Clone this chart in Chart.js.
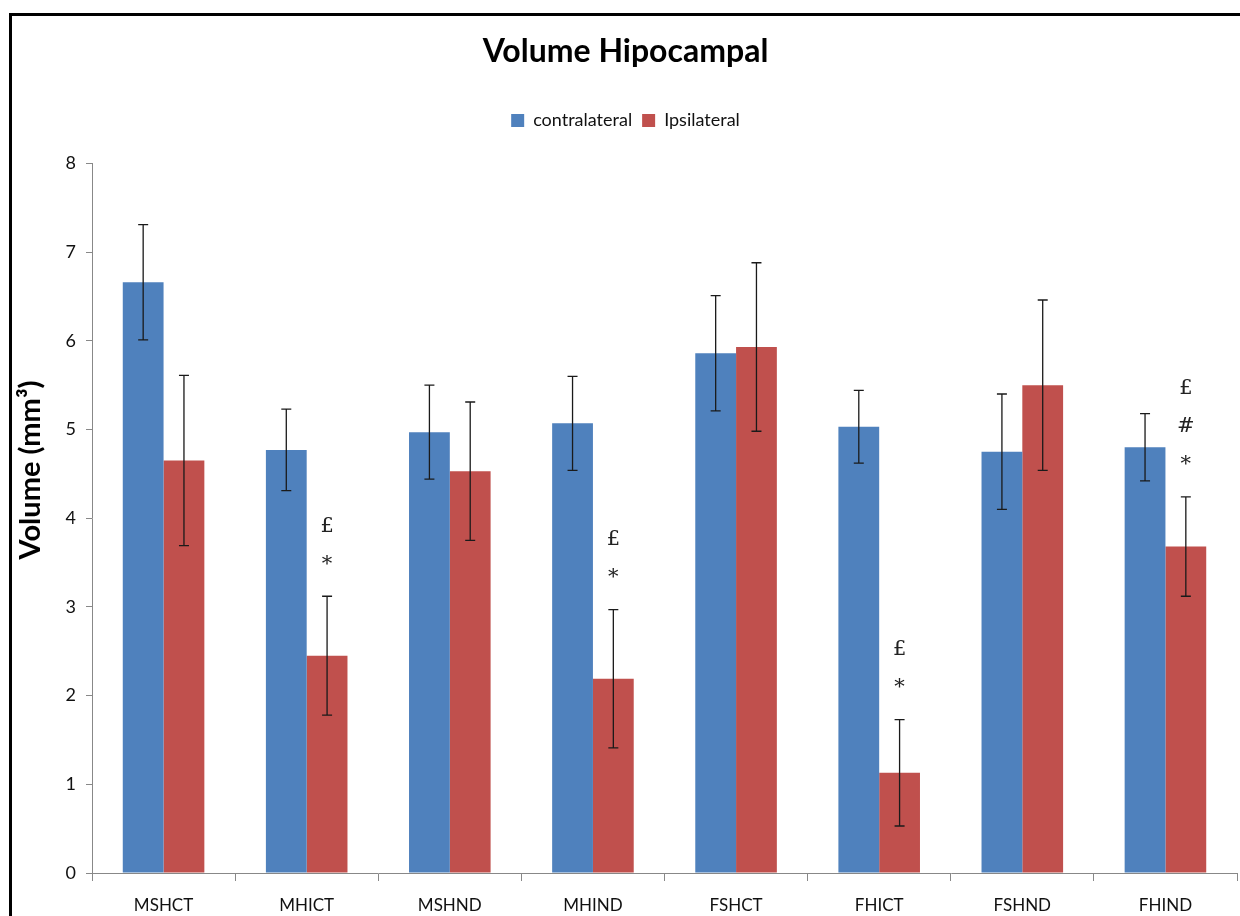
<!DOCTYPE html>
<html>
<head>
<meta charset="utf-8">
<script src="https://cdn.jsdelivr.net/npm/chart.js@4"></script>
<style>
    body { margin: 0; background: #fff; }
    #wrap { position: relative; width: 1240px; height: 916px; overflow: hidden; }
    #frame {
        position: absolute; left: 9px; top: 13px; width: 1300px; height: 1000px;
        border-top: 3px solid #000; border-left: 3px solid #000;
    }
    #mychart { position: absolute; left: 0; top: 0; }
</style>
</head>
<body>
<div id="wrap">
    <div id="frame"></div>
    <canvas id="mychart" width="1240" height="916"></canvas>
</div>
<script>
const categories = ['MSHCT', 'MHICT', 'MSHND', 'MHIND', 'FSHCT', 'FHICT', 'FSHND', 'FHIND']
const contralateral = [6.66, 4.77, 4.97, 5.07, 5.86, 5.03, 4.75, 4.80]
const contraErr = [0.65, 0.46, 0.53, 0.53, 0.65, 0.41, 0.65, 0.38]
const ipsilateral = [4.65, 2.45, 4.53, 2.19, 5.93, 1.13, 5.50, 3.68]
const ipsiErr = [0.96, 0.67, 0.78, 0.78, 0.95, 0.60, 0.96, 0.56]
// significance marks over the ipsilateral bars (top to bottom)
const ipsiMarks = [[], ['£', '*'], [], ['£', '*'], [], ['£', '*'], [], ['£', '#', '*']]
const yTicks = [0, 1, 2, 3, 4, 5, 6, 7, 8]
const yTitle = 'Volume (mm³)'

const mainFont = 'Lato, "Open Sans", sans-serif'

// error bars drawn on top of bars
const errorBars = {
    id: 'errorBars',
    afterDatasetsDraw(chart) {
        const ctx = chart.ctx
        const y = chart.scales.y
        ctx.save()
        ctx.strokeStyle = '#1a1a1a'
        ctx.lineWidth = 1.3
        chart.data.datasets.forEach((ds, i) => {
            const meta = chart.getDatasetMeta(i)
            meta.data.forEach((bar, j) => {
                const v = ds.data[j]
                const e = ds.errors[j]
                const top = y.getPixelForValue(v + e)
                const bot = y.getPixelForValue(v - e)
                ctx.beginPath()
                ctx.moveTo(bar.x, top); ctx.lineTo(bar.x, bot)
                ctx.moveTo(bar.x - 5, top); ctx.lineTo(bar.x + 5, top)
                ctx.moveTo(bar.x - 5, bot); ctx.lineTo(bar.x + 5, bot)
                ctx.stroke()
            })
        })
        ctx.restore()
    }
}

const sigMarks = {
    id: 'sigMarks',
    afterDatasetsDraw(chart) {
        const ctx = chart.ctx
        const y = chart.scales.y
        const meta = chart.getDatasetMeta(1)
        ctx.save()
        ctx.fillStyle = '#222'
        ctx.font = '21px "DejaVu Serif", "Liberation Serif", serif'
        ctx.textAlign = 'center'
        ctx.textBaseline = 'middle'
        ipsiMarks.forEach((marks, j) => {
            const bar = meta.data[j]
            const top = y.getPixelForValue(ipsilateral[j] + ipsiErr[j])
            const n = marks.length
            marks.forEach((m, k) => {
                ctx.fillText(m, bar.x, top - 32 - (n - 1 - k) * 38)
            })
        })
        ctx.restore()
    }
}

// y axis title, sits a bit above the axis middle like the original
const yAxisTitle = {
    id: 'yAxisTitle',
    afterDraw(chart) {
        const ctx = chart.ctx
        const area = chart.chartArea
        ctx.save()
        ctx.translate(31, area.top + (area.bottom - area.top) * 0.432)
        ctx.rotate(-Math.PI / 2)
        ctx.fillStyle = '#000'
        ctx.font = 'bold 29px ' + mainFont
        ctx.textAlign = 'center'
        ctx.textBaseline = 'middle'
        ctx.fillText(yTitle, 0, 0)
        ctx.restore()
    }
}

new Chart(document.getElementById('mychart'), {
    type: 'bar',
    data: {
        labels: categories,
        datasets: [
            { label: 'contralateral', data: contralateral, errors: contraErr, backgroundColor: '#4F81BD' },
            { label: 'Ipsilateral', data: ipsilateral, errors: ipsiErr, backgroundColor: '#C0504D' }
        ]
    },
    options: {
        responsive: false,
        animation: false,
        layout: { padding: { left: 14, right: 3, top: 0, bottom: 0 } },
        datasets: { bar: { categoryPercentage: 0.57, barPercentage: 1.0 } },
        plugins: {
            title: {
                display: true,
                text: 'Volume Hipocampal',
                color: '#000',
                font: { family: mainFont, size: 32, weight: 'bold' },
                padding: { top: 32, bottom: 31 }
            },
            legend: {
                display: true,
                labels: {
                    color: '#111',
                    font: { family: mainFont, size: 18 },
                    boxWidth: 13, boxHeight: 13, padding: 10
                }
            },
            tooltip: { enabled: false }
        },
        scales: {
            x: {
                grid: { display: true, drawOnChartArea: false, tickLength: 8, color: '#888', offset: true },
                border: { color: '#888' },
                ticks: { color: '#111', font: { family: mainFont, size: 17 }, padding: 14 },
                afterFit(scale) { scale.height = 43 }
            },
            y: {
                min: 0, max: 8,
                afterBuildTicks(scale) { scale.ticks = yTicks.map(v => ({ value: v })) },
                grid: { display: true, drawOnChartArea: false, tickLength: 6, color: '#888' },
                border: { color: '#888' },
                ticks: { color: '#111', font: { family: mainFont, size: 18 }, padding: 10 },
                afterFit(scale) { scale.width = 78 }
            }
        }
    },
    plugins: [errorBars, sigMarks, yAxisTitle, {
        id: 'legendGap',
        beforeInit(chart) {
            const fit = chart.legend.fit
            chart.legend.fit = function () { fit.bind(chart.legend)(); this.height += 24 }
        }
    }]
})
</script>
</body>
</html>
